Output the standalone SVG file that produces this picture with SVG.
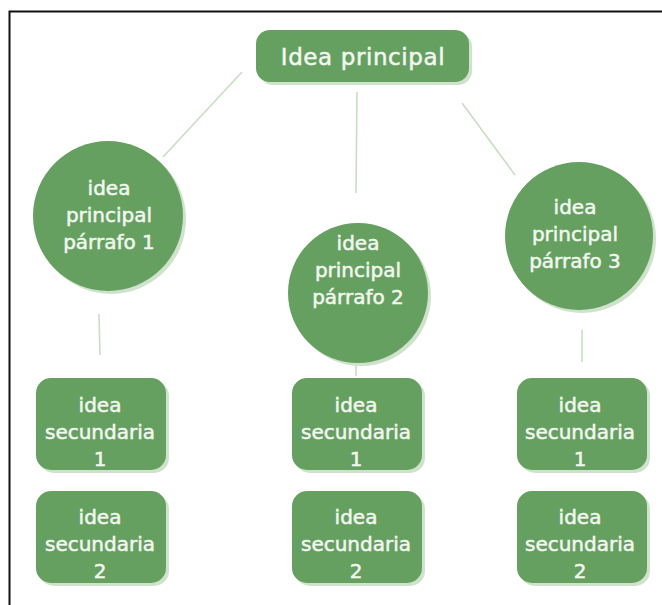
<svg xmlns="http://www.w3.org/2000/svg" width="662" height="605" viewBox="0 0 662 605">
<style>
.n{fill:#66a060}
.sh{fill:#cfe2cc}
.t{fill:#f2f7f0;stroke:#f2f7f0;stroke-width:0.5;font-family:"DejaVu Sans",Verdana,sans-serif;font-size:20px;text-anchor:middle}
.tt{font-size:23px;letter-spacing:0.6px}
.c{stroke:#c6dfc2;stroke-width:1.6;fill:none}
</style>
<rect width="662" height="605" fill="#ffffff"/>
<path d="M9.5 605V11.5H662" fill="none" stroke="#111" stroke-width="2"/>
<g id="connectors">
<line class="c" x1="242" y1="72" x2="163" y2="157"/>
<line class="c" x1="357" y1="92" x2="356" y2="193"/>
<line class="c" x1="462" y1="103" x2="515" y2="175"/>
<line class="c" x1="99" y1="314" x2="100" y2="355"/>
<line class="c" x1="356" y1="362" x2="356" y2="376"/>
<line class="c" x1="582" y1="330" x2="582" y2="362"/>
</g>
<g id="main">
<rect class="sh" x="259" y="33" width="213" height="52" rx="14"/>
<rect class="n" x="256" y="30" width="213" height="52" rx="14"/>
<text class="t tt" x="363" y="65">Idea principal</text>
</g>
<g id="p1">
<circle class="sh" cx="111" cy="219" r="75"/>
<circle class="n" cx="108" cy="216" r="75"/>
<text class="t" x="109" y="195">idea</text>
<text class="t" x="109" y="222">principal</text>
<text class="t" x="109" y="249">párrafo 1</text>
</g>
<g id="p2">
<circle class="sh" cx="361" cy="296" r="70"/>
<circle class="n" cx="358" cy="293" r="70"/>
<text class="t" x="358" y="250">idea</text>
<text class="t" x="358" y="277">principal</text>
<text class="t" x="358" y="304">párrafo 2</text>
</g>
<g id="p3">
<circle class="sh" cx="582" cy="239" r="74"/>
<circle class="n" cx="579" cy="236" r="74"/>
<text class="t" x="575" y="214">idea</text>
<text class="t" x="575" y="241">principal</text>
<text class="t" x="575" y="268">párrafo 3</text>
</g>
<g id="s11">
<rect class="sh" x="39" y="381" width="130" height="92" rx="15"/>
<rect class="n" x="36" y="378" width="130" height="92" rx="15"/>
<text class="t" x="100" y="412">idea</text>
<text class="t" x="100" y="439">secundaria</text>
<text class="t" x="100" y="466">1</text>
</g>
<g id="s12">
<rect class="sh" x="39" y="494" width="130" height="92" rx="15"/>
<rect class="n" x="36" y="491" width="130" height="92" rx="15"/>
<text class="t" x="100" y="524">idea</text>
<text class="t" x="100" y="551">secundaria</text>
<text class="t" x="100" y="578">2</text>
</g>
<g id="s21">
<rect class="sh" x="295" y="381" width="130" height="92" rx="15"/>
<rect class="n" x="292" y="378" width="130" height="92" rx="15"/>
<text class="t" x="356" y="412">idea</text>
<text class="t" x="356" y="439">secundaria</text>
<text class="t" x="356" y="466">1</text>
</g>
<g id="s22">
<rect class="sh" x="295" y="494" width="130" height="92" rx="15"/>
<rect class="n" x="292" y="491" width="130" height="92" rx="15"/>
<text class="t" x="356" y="524">idea</text>
<text class="t" x="356" y="551">secundaria</text>
<text class="t" x="356" y="578">2</text>
</g>
<g id="s31">
<rect class="sh" x="520" y="381" width="130" height="92" rx="15"/>
<rect class="n" x="517" y="378" width="130" height="92" rx="15"/>
<text class="t" x="580" y="412">idea</text>
<text class="t" x="580" y="439">secundaria</text>
<text class="t" x="580" y="466">1</text>
</g>
<g id="s32">
<rect class="sh" x="520" y="494" width="130" height="92" rx="15"/>
<rect class="n" x="517" y="491" width="130" height="92" rx="15"/>
<text class="t" x="580" y="524">idea</text>
<text class="t" x="580" y="551">secundaria</text>
<text class="t" x="580" y="578">2</text>
</g>
</svg>
